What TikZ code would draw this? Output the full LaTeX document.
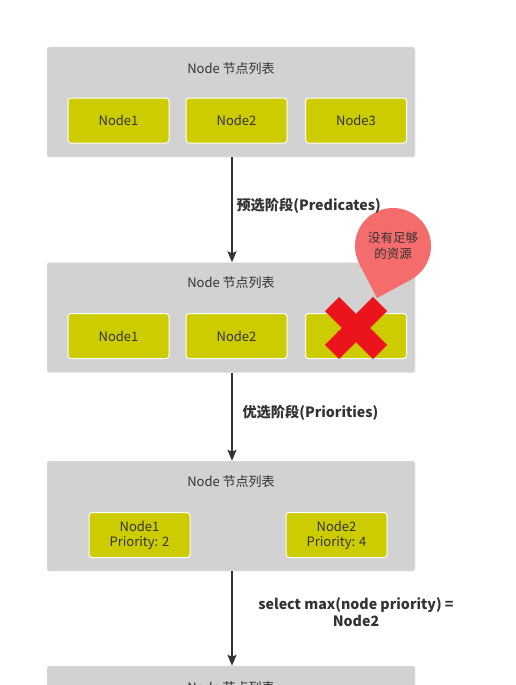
\documentclass[tikz,border=0pt]{standalone}
\usepackage{fontspec}
\setmainfont{Noto Sans CJK SC}
\usetikzlibrary{arrows.meta}
\definecolor{boxgray}{RGB}{210,210,210}
\definecolor{nodeyellow}{RGB}{204,204,0}
\definecolor{crossred}{RGB}{236,20,28}
\definecolor{bubblered}{RGB}{245,108,108}
\definecolor{textdark}{RGB}{51,51,51}
\tikzset{listbox/.style={rectangle, rounded corners=2pt, fill=boxgray, draw=white!55!boxgray,
		minimum width=368pt, minimum height=110pt},
	nodebox/.style={rectangle, rounded corners=3pt, fill=nodeyellow, draw=white, line width=1pt,
		minimum width=101pt, minimum height=45pt, text=textdark, align=center,
		font=\fontsize{13}{15}\selectfont},
	listtitle/.style={text=textdark, font=\fontsize{13}{15}\selectfont},
	stage/.style={text=textdark, align=center, font=\bfseries\fontsize{14.2}{17}\selectfont},
	stagearrow/.style={-{Stealth[length=11pt,width=9pt,inset=2pt]}, line width=1.4pt, draw=textdark}}

\begin{document}
\begin{tikzpicture}[x=1pt, y=-1pt]
		\clip (0,0) rectangle (515,685);
		\fill[white] (0,0) rectangle (515,685);
		% the four node lists
		\begin{scope}[every node/.style={listbox}]
			\node(L1) at (231, 102) {};
			\node(L2) at (231, 317.5) {};
			\node(L3) at (231, 516) {};
			\node(L4) at (231, 721) {};
		\end{scope}
		\begin{scope}[every node/.style={listtitle}]
			\node(T1) at (231, 69) {Node 节点列表};
			\node(T2) at (231, 283) {Node 节点列表};
			\node(T3) at (231, 482) {Node 节点列表};
			\node(T4) at (231, 688) {Node 节点列表};
		\end{scope}
		\begin{scope}[every node/.style={nodebox}]
			\node(A1) at (118.5, 120.5) {Node1};
			\node(A2) at (236.5, 120.5) {Node2};
			\node(A3) at (356, 120.5) {Node3};
			\node(B1) at (118.5, 336) {Node1};
			\node(B2) at (236.5, 336) {Node2};
			\node(B3) at (356, 336) {Node3};
			\node(C1) at (139.5, 535) {Node1\\Priority: 2};
			\node(C2) at (336.5, 535) {Node2\\Priority: 4};
		\end{scope}
		% not enough resources
		\coordinate(tip) at (377, 298);
		\node(bubble) at (393, 246) [circle, fill=bubblered, minimum size=76pt, inner sep=0pt,
			text=textdark, align=center, font=\fontsize{12.5}{16}\selectfont] {没有足够\\的资源};
		\fill[bubblered] (tip) -- (bubble.-61.4) -- (bubble.-152.8) -- cycle;
		\coordinate(X) at (356, 328);
		\draw[crossred, line width=20pt] ([shift={(-24,-24)}]X) -- ([shift={(24,24)}]X);
		\draw[crossred, line width=20pt] ([shift={(-24,24)}]X) -- ([shift={(24,-24)}]X);
		% stages
		\draw[stagearrow] ([xshift=1pt]L1.south) -- ([xshift=1pt]L2.north);
		\draw[stagearrow] ([xshift=1pt]L2.south) -- ([xshift=1pt]L3.north);
		\draw[stagearrow] ([xshift=1pt]L3.south) -- ([xshift=1pt]L4.north);
		\node(S1) at (233, 206) [stage, anchor=west] {预选阶段(Predicates)};
		\node(S2) at (239, 413) [stage, anchor=west] {优选阶段(Priorities)};
		\node(S3) at (356, 612) [stage] {select max(node priority) =\\Node2};
	\end{tikzpicture}
\end{document}
